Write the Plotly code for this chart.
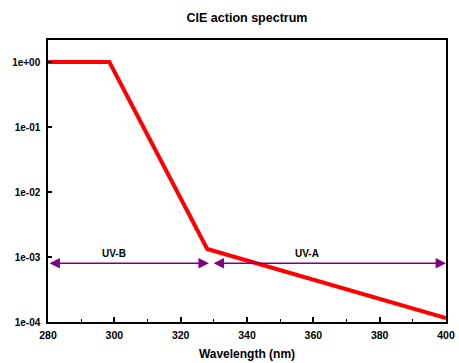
import math
import plotly.graph_objects as go

# Data
wavelength = [280, 298.5, 328, 400]
action = [1.0, 1.0, 1.33e-3, 1.15e-4]

band_names = ["UV-B", "UV-A"]
band_start = [280, 329.5]
band_end = [328.5, 400]
band_label_x = [300, 358]
band_level = 8.0e-4
label_level = 1.15e-3

x_ticks = [280, 300, 320, 340, 360, 380, 400]
y_ticks = [1e-4, 1e-3, 1e-2, 1e-1, 1e0]
y_tick_text = ["1e-04", "1e-03", "1e-02", "1e-01", "1e+00"]

font_family = "Liberation Sans, Arial, sans-serif"

fig = go.Figure()
fig.add_trace(go.Scatter(x=wavelength, y=action, mode="lines",
                         line=dict(color="#ff0000", width=4), showlegend=False,
                         hoverinfo="skip", cliponaxis=True))

annotations = []
for name, x0, x1, lx in zip(band_names, band_start, band_end, band_label_x):
    annotations.append(dict(x=x1, y=math.log10(band_level), ax=x0, ay=math.log10(band_level),
                            xref="x", yref="y", axref="x", ayref="y", text="",
                            showarrow=True, arrowhead=2, startarrowhead=2,
                            arrowside="end+start", arrowsize=1.3, startarrowsize=1.3,
                            arrowwidth=1.6, arrowcolor="#800080", standoff=0, startstandoff=0))
    annotations.append(dict(x=lx, y=math.log10(label_level), xref="x", yref="y",
                            text="<b>%s</b>" % name, showarrow=False,
                            font=dict(size=10, color="#000000", family=font_family, weight="bold")))

fig.update_layout(
    width=459, height=363,
    margin=dict(l=48, r=13, t=40, b=41, autoexpand=False),
    paper_bgcolor="white", plot_bgcolor="white",
    title=dict(text="<b>CIE action spectrum</b>", x=(48 + 446) / 2 / 459, xanchor="center",
               y=1 - 18 / 363, yanchor="middle", automargin=False,
               font=dict(size=12.5, color="#000000", family=font_family, weight="bold")),
    font=dict(family=font_family, color="#000000"),
    annotations=annotations,
    xaxis=dict(range=[280, 400], tickvals=x_ticks, ticktext=["<b>%d</b>" % v for v in x_ticks],
               ticks="inside", ticklen=5, tickwidth=1.5, tickcolor="#000000",
               minor=dict(dtick=10, tick0=280, ticks="inside", ticklen=3, tickwidth=1.2, tickcolor="#000000"),
               showline=True, linecolor="#000000", linewidth=1.5, mirror=True,
               showgrid=False, zeroline=False, automargin=False, ticklabelstandoff=3,
               tickfont=dict(size=10.5, family=font_family, color="#000000", weight="bold"),
               title=dict(text="<b>Wavelength (nm)</b>", standoff=9,
                          font=dict(size=12, family=font_family, color="#000000", weight="bold"))),
    yaxis=dict(type="log", range=[-4, 0.34], tickvals=y_ticks,
               ticktext=["<b>%s</b>" % t for t in y_tick_text],
               ticks="inside", ticklen=4, tickwidth=1.5, tickcolor="#000000",
               showline=True, linecolor="#000000", linewidth=1.5, mirror=True,
               showgrid=False, zeroline=False, automargin=False, ticklabelstandoff=4,
               tickfont=dict(size=10, family=font_family, color="#000000", weight="bold")),
)

fig.write_html("out.html")
